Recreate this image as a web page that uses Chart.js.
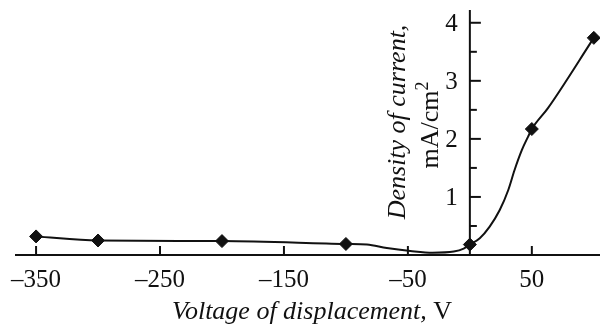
<!DOCTYPE html>
<html>
<head>
<meta charset="utf-8">
<script src="https://cdn.jsdelivr.net/npm/chart.js@4/dist/chart.umd.min.js"></script>
<style>
  html, body { margin: 0; padding: 0; background: #fff; }
  #wrap { width: 600px; height: 325px; }
</style>
</head>
<body>
<div id="wrap"><canvas id="chart" width="600" height="325"></canvas></div>
<script>
// measured points (diamonds)
const markerVoltage = [-350, -300, -200, -100, 0, 50, 100];
const markerDensity = [0.32, 0.25, 0.24, 0.19, 0.18, 2.17, 3.74];

// the smooth curve
const curveVoltage = [-350, -300, -200, -100, -83, -67, -48, -30, -13, -5, 0, 8, 16, 24, 31, 36, 42, 47, 50, 63, 100];
const curveDensity = [0.32, 0.25, 0.24, 0.19, 0.18, 0.12, 0.07, 0.04, 0.06, 0.11, 0.18, 0.29, 0.49, 0.77, 1.12, 1.46, 1.81, 2.04, 2.17, 2.53, 3.74];

// axis ticks
const xTickValues = [-350, -250, -150, -50, 50];
const yTickValues = [1, 2, 3, 4];
const yMinorTicks = [0.5, 1.5, 2.5, 3.5];

const serif = '"Liberation Serif", "DejaVu Serif", serif';

function toPoints(xs, ys) {
    return xs.map(function(x, i) { return { x: x, y: ys[i] }; });
}

// draws the axes, the ticks and all the axis text
const axesPlugin = {
    id: 'axesPlugin',
    afterDatasetsDraw: function(chart) {
        const ctx = chart.ctx;
        const xs = chart.scales.x;
        const ys = chart.scales.y;
        const area = chart.chartArea;
        const y0 = ys.getPixelForValue(0);
        const x0 = xs.getPixelForValue(0);

        ctx.save();
        ctx.strokeStyle = '#111';
        ctx.fillStyle = '#111';
        ctx.lineWidth = 2;

        // x axis line
        ctx.beginPath();
        ctx.moveTo(area.left, y0);
        ctx.lineTo(area.right, y0);
        ctx.stroke();

        // y axis line at 0 V
        ctx.beginPath();
        ctx.moveTo(x0, y0);
        ctx.lineTo(x0, area.top);
        ctx.stroke();

        // x ticks (inward) and labels
        ctx.font = '25px ' + serif;
        ctx.textAlign = 'center';
        ctx.textBaseline = 'alphabetic';
        xTickValues.forEach(function(v) {
            const px = xs.getPixelForValue(v);
            ctx.beginPath();
            ctx.moveTo(px, y0);
            ctx.lineTo(px, y0 - 9);
            ctx.stroke();
            const label = v < 0 ? '\u2013' + Math.abs(v) : String(v);
            ctx.fillText(label, px, y0 + 32);
        });

        // y ticks (inward) and labels
        ctx.textAlign = 'right';
        yTickValues.forEach(function(v) {
            const py = ys.getPixelForValue(v);
            ctx.beginPath();
            ctx.moveTo(x0, py);
            ctx.lineTo(x0 + 11, py);
            ctx.stroke();
            ctx.fillText(String(v), x0 - 12, py + 8.5);
        });
        yMinorTicks.forEach(function(v) {
            const py = ys.getPixelForValue(v);
            ctx.beginPath();
            ctx.moveTo(x0, py);
            ctx.lineTo(x0 + 7, py);
            ctx.stroke();
        });

        // x title: italic words, upright unit
        const xPart1 = 'Voltage of displacement,';
        const xPart2 = ' V';
        ctx.textAlign = 'left';
        ctx.font = 'italic 26px ' + serif;
        const w1 = ctx.measureText(xPart1).width;
        ctx.font = '26px ' + serif;
        const w2 = ctx.measureText(xPart2).width;
        let sx = 312 - (w1 + w2) / 2;
        ctx.font = 'italic 26px ' + serif;
        ctx.fillText(xPart1, sx, 319);
        ctx.font = '26px ' + serif;
        ctx.fillText(xPart2, sx + w1, 319);

        // y title, rotated, two lines
        ctx.save();
        ctx.translate(405, 122);
        ctx.rotate(-Math.PI / 2);
        ctx.textAlign = 'center';
        ctx.font = 'italic 26px ' + serif;
        ctx.fillText('Density of current,', 0, 0);
        ctx.restore();

        ctx.save();
        ctx.translate(438, 125);
        ctx.rotate(-Math.PI / 2);
        ctx.textAlign = 'left';
        ctx.font = '26px ' + serif;
        const unit = 'mA/cm';
        const uw = ctx.measureText(unit).width;
        ctx.font = '18px ' + serif;
        const sw = ctx.measureText('2').width;
        const ux = -(uw + sw) / 2;
        ctx.font = '26px ' + serif;
        ctx.fillText(unit, ux, 0);
        ctx.font = '18px ' + serif;
        ctx.fillText('2', ux + uw, -10);
        ctx.restore();

        ctx.restore();
    }
};

const ctx = document.getElementById('chart');

const myChart = new Chart(ctx, {
    type: 'line',
    data: {
        datasets: [
            {
                label: 'curve',
                data: toPoints(curveVoltage, curveDensity),
                borderColor: '#111',
                borderWidth: 2,
                pointRadius: 0,
                cubicInterpolationMode: 'monotone',
                fill: false,
                clip: false
            },
            {
                label: 'measured',
                data: toPoints(markerVoltage, markerDensity),
                showLine: false,
                pointStyle: 'rectRot',
                pointRadius: 6.5,
                pointBackgroundColor: '#111',
                pointBorderColor: '#111',
                pointBorderWidth: 1,
                clip: false
            }
        ]
    },
    options: {
        responsive: false,
        animation: false,
        devicePixelRatio: 1,
        layout: {
            autoPadding: false,
            padding: { left: 15, right: 0, top: 10, bottom: 70 }
        },
        plugins: {
            legend: { display: false },
            title: { display: false },
            tooltip: { enabled: false }
        },
        scales: {
            x: {
                type: 'linear',
                display: false,
                min: -367,
                max: 105
            },
            y: {
                type: 'linear',
                display: false,
                min: 0,
                max: 4.22
            }
        }
    },
    plugins: [axesPlugin]
});
</script>
</body>
</html>
